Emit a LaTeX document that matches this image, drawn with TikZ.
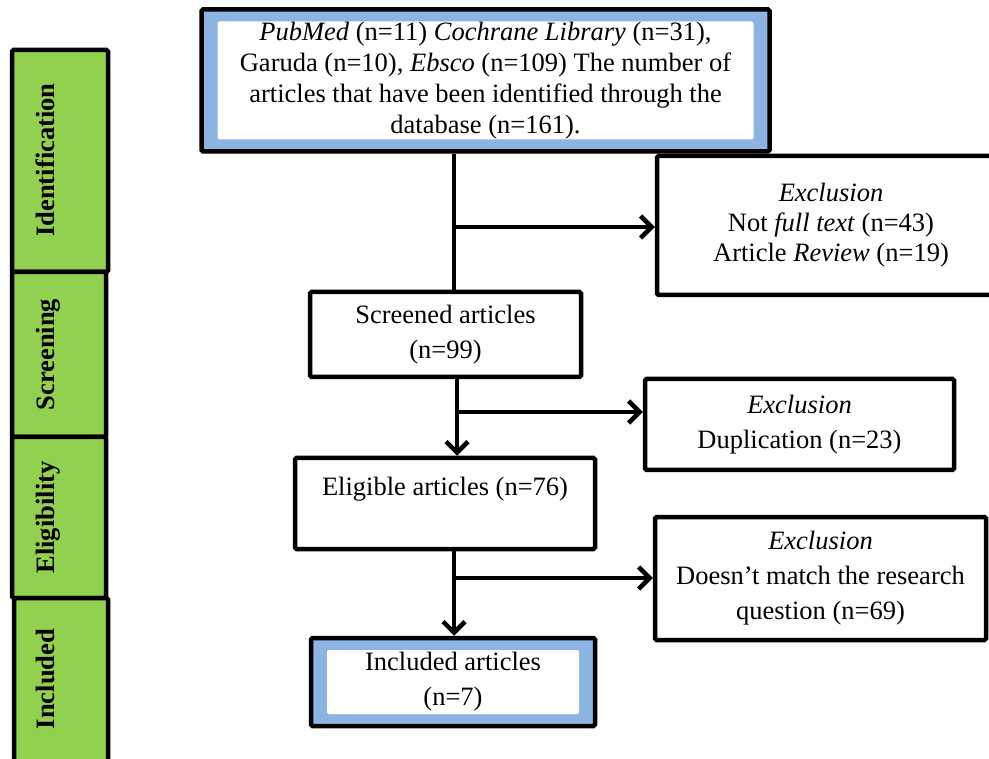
\documentclass[tikz,border=0pt]{standalone}
\usepackage{fontspec}
\setmainfont{Liberation Serif}
\usepackage{xcolor}
\usetikzlibrary{positioning,arrows.meta}
\definecolor{phasegreen}{HTML}{92D050}
\definecolor{bandblue}{HTML}{8DB3E2}
\tikzset{
  box/.style={draw, line width=4.5pt, rounded corners=1.5pt, fill=white, align=center,
    inner sep=0pt, font=\fontsize{26.5}{35}\selectfont},
  bandbox/.style={box, fill=bandblue,
    path picture={\fill[white] ([shift={(16,12)}]path picture bounding box.north west)
      rectangle ([shift={(-16,-12)}]path picture bounding box.south east);}},
  phase/.style={draw, line width=4.5pt, rounded corners=1.5pt, fill=phasegreen},
  phaselabel/.style={rotate=90, anchor=base, font=\bfseries\fontsize{26.5}{30}\selectfont},
  arr/.style={line width=4.5pt, -{Straight Barb[length=11pt,width=22pt,line width=4.5pt]}},
  link/.style={line width=4.5pt}
}

\begin{document}
\begin{tikzpicture}[x=1pt,y=-1pt]
\useasboundingbox (0,0) rectangle (989,759);

% stages on the left
\draw[phase] (12,50) rectangle (108,272);
\draw[phase] (12,272) rectangle (106,437);
\draw[phase] (12,437) rectangle (106,598);
\draw[phase] (14,598) rectangle (108,775);
\node[phaselabel] (idf) at (54,160) {Identification};
\node[phaselabel] (scrn) at (54,354.5) {Screening};
\node[phaselabel] (elg) at (54,517.5) {Eligibility};
\node[phaselabel] (inc) at (54,679) {Included};

% boxes
\node[bandbox, minimum width=568pt, minimum height=142pt, font=\fontsize{26.5}{31}\selectfont] (db) at (485.5,80.5)
  {\textit{PubMed} (n=11) \textit{Cochrane Library} (n=31),\\
   Garuda (n=10), \textit{Ebsco} (n=109) The number of\\
   articles that have been identified through the\\
   database (n=161).};
\node[box, minimum width=348pt, minimum height=139pt, font=\fontsize{26.5}{30}\selectfont] (ex1) at (831,225.5)
  {\textit{Exclusion}\\ Not \textit{full text} (n=43)\\ Article \textit{Review} (n=19)};
\node[box, minimum width=271pt, minimum height=85pt] (scr) at (445.5,334.5)
  {Screened articles\\(n=99)};
\node[box, minimum width=309pt, minimum height=91pt] (ex2) at (799.5,424.5)
  {\textit{Exclusion}\\Duplication (n=23)};
\node[box, minimum width=300pt, minimum height=91pt] (elig) at (445,503.5)
  {Eligible articles (n=76)\\\mbox{}};
\node[box, minimum width=331pt, minimum height=123pt] (ex3) at (820.5,578.5)
  {\textit{Exclusion}\\Doesn’t match the research\\question (n=69)};
\node[bandbox, minimum width=284pt, minimum height=88pt] (incl) at (453,682)
  {Included articles\\(n=7)};

% connectors
\coordinate (j1) at (454,227);
\coordinate (j2) at (457,412);
\coordinate (j3) at (454,578);
\draw[link] (db.south -| j1) -- (j1 |- scr.north);
\draw[arr] (j1) -- (j1 -| ex1.west);
\draw[arr] (scr.south -| j2) -- (j2 |- elig.north);
\draw[arr] (j2) -- (j2 -| ex2.west);
\draw[arr] (elig.south -| j3) -- (j3 |- incl.north);
\draw[arr] (j3) -- (j3 -| ex3.west);
\end{tikzpicture}
\end{document}
